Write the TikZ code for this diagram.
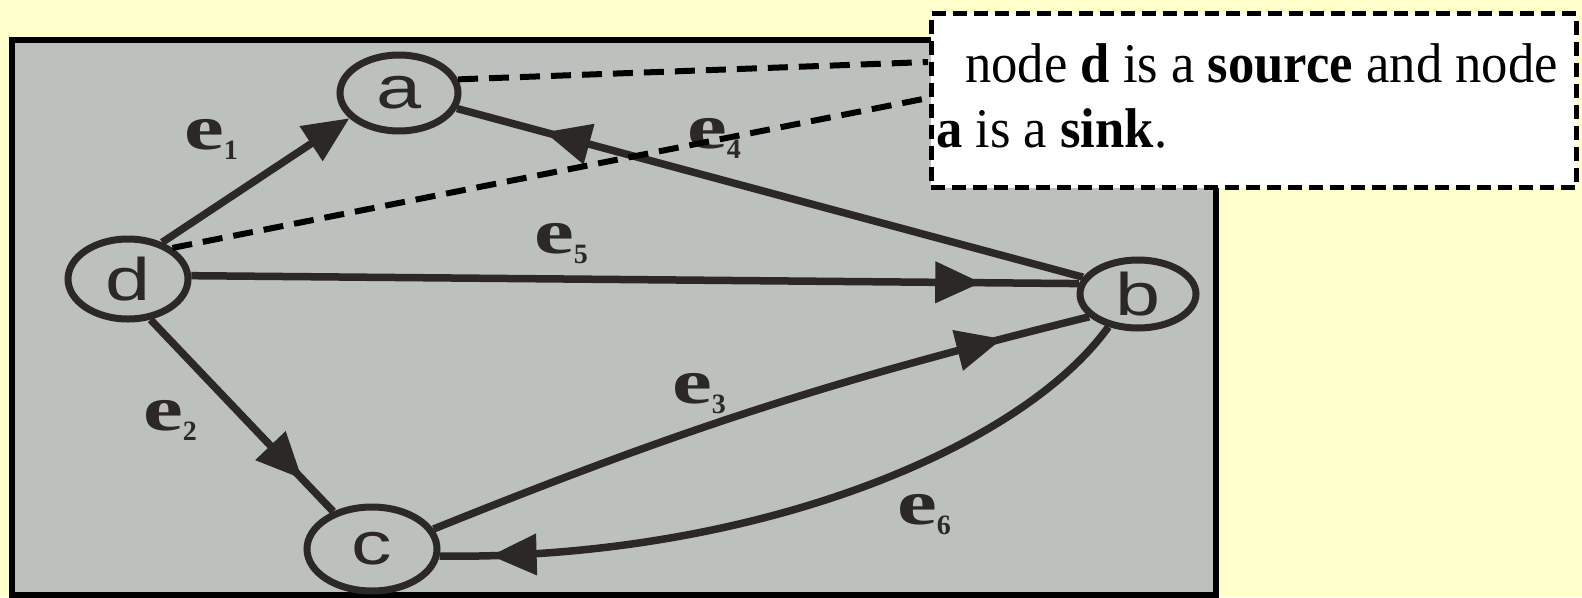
\documentclass[tikz,border=0pt]{standalone}
\usepackage{fontspec}
\setmainfont{Liberation Serif}
\newfontfamily\lsans{Liberation Sans}
\usetikzlibrary{arrows.meta,decorations.markings,shapes.geometric}
\definecolor{bgyellow}{RGB}{255,255,204}
\definecolor{photo}{RGB}{188,193,189}
\definecolor{ink}{RGB}{44,40,37}
\newcommand{\elab}[1]{\scalebox{1.4}[1]{\fontsize{64}{64}\selectfont\bfseries e}\raisebox{-10pt}{\fontsize{28}{28}\selectfont\bfseries #1}}
\newcommand{\vlab}[1]{\scalebox{1.35}[1]{#1}}
\begin{document}
\begin{tikzpicture}[x=1pt,y=-1pt,
  vert/.style={draw=ink, line width=7pt, ellipse, inner sep=0pt, text=ink,
    font=\lsans\fontsize{60}{60}\selectfont},
  edge/.style={draw=ink, line width=7.5pt},
  endtip/.style={-{Triangle[length=46pt,width=40pt]}},
  midarrow/.style={postaction={decorate}, decoration={markings,
    mark=at position #1 with {\arrow[ink]{Triangle[length=46pt,width=40pt]}}}},
  elabel/.style={inner sep=0pt, text=ink},
  conn/.style={draw=black, line width=6pt, dash pattern=on 20pt off 11pt},
  notebox/.style={draw=black, line width=5pt, dash pattern=on 14pt off 7pt, fill=white,
    inner sep=0pt, anchor=north west},
  notetext/.style={anchor=base west, inner sep=0pt, text=black, font=\fontsize{56}{56}\selectfont}
]
\useasboundingbox (0,0) rectangle (1582,597);
\fill[bgyellow] (0,0) rectangle (1582,597);
% photo
\fill[photo] (12,40) rectangle (1216,597);
\draw[black, line width=6pt] (12,40) rectangle (1216,595);

% vertices
\node[vert, minimum width=118pt, minimum height=76pt] (a) at (399,93) {\vlab{a}};
\node[vert, minimum width=120pt, minimum height=80pt] (d) at (128,279) {\vlab{d}};
\node[vert, minimum width=116pt, minimum height=68pt] (b) at (1138,294) {\vlab{b}};
\node[vert, minimum width=130pt, minimum height=84pt] (c) at (372,549) {\vlab{c}};

% edges
\draw[edge, endtip] (d.47) -- (a.207);
\draw[edge, midarrow=0.86] (b.163) -- (a.-15);
\draw[edge, midarrow=0.89] (d.3) -- (b.170);
\draw[edge, midarrow=0.83] (d.-61) -- (c.136);
\draw[edge, midarrow=0.87] (c.18) to[bend left=4] (b.205);
\draw[edge, midarrow=0.93] (b.228) .. controls (1020,450) and (750,560) .. (c.-6);

% edge labels
\node[elabel] (l1) at (211,139) {\elab{1}};
\node[elabel] (l4) at (714,138) {\elab{4}};
\node[elabel] (l5) at (561,244) {\elab{5}};
\node[elabel] (l2) at (170,420) {\elab{2}};
\node[elabel] (l3) at (699,394) {\elab{3}};
\node[elabel] (l6) at (924,515) {\elab{6}};

% callout
\coordinate (p1) at (928,62);
\coordinate (p2) at (928,98);
\draw[conn] (a.13) -- (p1);
\draw[conn] (d.35) -- (p2);
\node[notebox, minimum width=645pt, minimum height=174pt] (note) at (928.5,11) {};
\node[notetext] (t1) at (965,82) {\scalebox{0.94}[1]{node \textbf{d} is a \textbf{source} and node}};
\node[notetext] (t2) at (936,147) {\scalebox{0.94}[1]{\textbf{a} is a \textbf{sink}.}};
\end{tikzpicture}
\end{document}
